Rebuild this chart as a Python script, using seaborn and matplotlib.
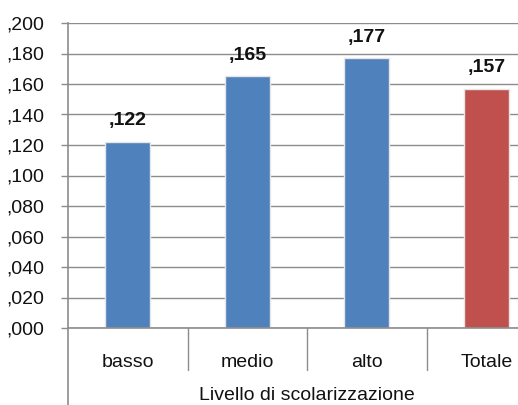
import matplotlib
matplotlib.use("Agg")
import matplotlib.pyplot as plt
import matplotlib.transforms as mtransforms
import seaborn as sns
import pandas as pd

categories = ["basso", "medio", "alto", "Totale"]
values = [0.122, 0.165, 0.177, 0.157]
groups = ["livello", "livello", "livello", "totale"]
yticks = [0.0, 0.02, 0.04, 0.06, 0.08, 0.10, 0.12, 0.14, 0.16, 0.18, 0.20]
xlabel = "Livello di scolarizzazione"

df = pd.DataFrame({"cat": categories, "val": values, "grp": groups})

sns.set_theme(style="white")
plt.rcParams["font.family"] = ["Liberation Sans", "DejaVu Sans"]

fig = plt.figure(figsize=(5.18, 4.05), dpi=100)
ax = fig.add_axes([68/518, 1-328/405, 478/518, 305/405])

sns.barplot(data=df, x="cat", y="val", hue="grp",
            palette={"livello": "#4F81BD", "totale": "#C0504D"},
            saturation=1, dodge=False, width=0.38, legend=False, ax=ax,
            edgecolor="#e6e6e6", linewidth=1.0)

ax.set_ylim(0, 0.2)
ax.set_xlim(-0.5, 3.5)
ax.set_yticks(yticks)
ax.set_yticklabels(["," + f"{t:.3f}".split(".")[1] for t in yticks], fontsize=14)
ax.yaxis.grid(True, color="#8c8c8c", linewidth=1)
ax.set_axisbelow(True)
for s in ["top", "right"]:
    ax.spines[s].set_visible(False)
ax.spines["left"].set_color("#8c8c8c")
ax.spines["bottom"].set_color("#8c8c8c")
ax.spines["left"].set_linewidth(1.2)
ax.spines["bottom"].set_linewidth(1.2)
ax.tick_params(axis="y", left=True, length=5, color="#8c8c8c", width=1, pad=12,
               labelcolor="#111111")
ax.tick_params(axis="x", bottom=False, labelsize=14, pad=13, labelcolor="#111111")
ax.set_ylabel("")
ax.set_xlabel(xlabel, fontsize=14, labelpad=11, color="#111111")

for cont in ax.containers:
    ax.bar_label(cont, labels=["," + f"{v:.3f}".split(".")[1] for v in cont.datavalues],
                 padding=9, fontsize=14, fontweight="bold", color="#111111")

trans = mtransforms.blended_transform_factory(ax.transData, ax.transAxes)
for b in [0.5, 1.5, 2.5]:
    ax.plot([b, b], [0, -42/305], transform=trans, color="#8c8c8c", lw=1, clip_on=False)
ax.plot([-0.5, -0.5], [0, -80/305], transform=trans, color="#8c8c8c", lw=1.2, clip_on=False)

fig.savefig("out.png", dpi=100)
